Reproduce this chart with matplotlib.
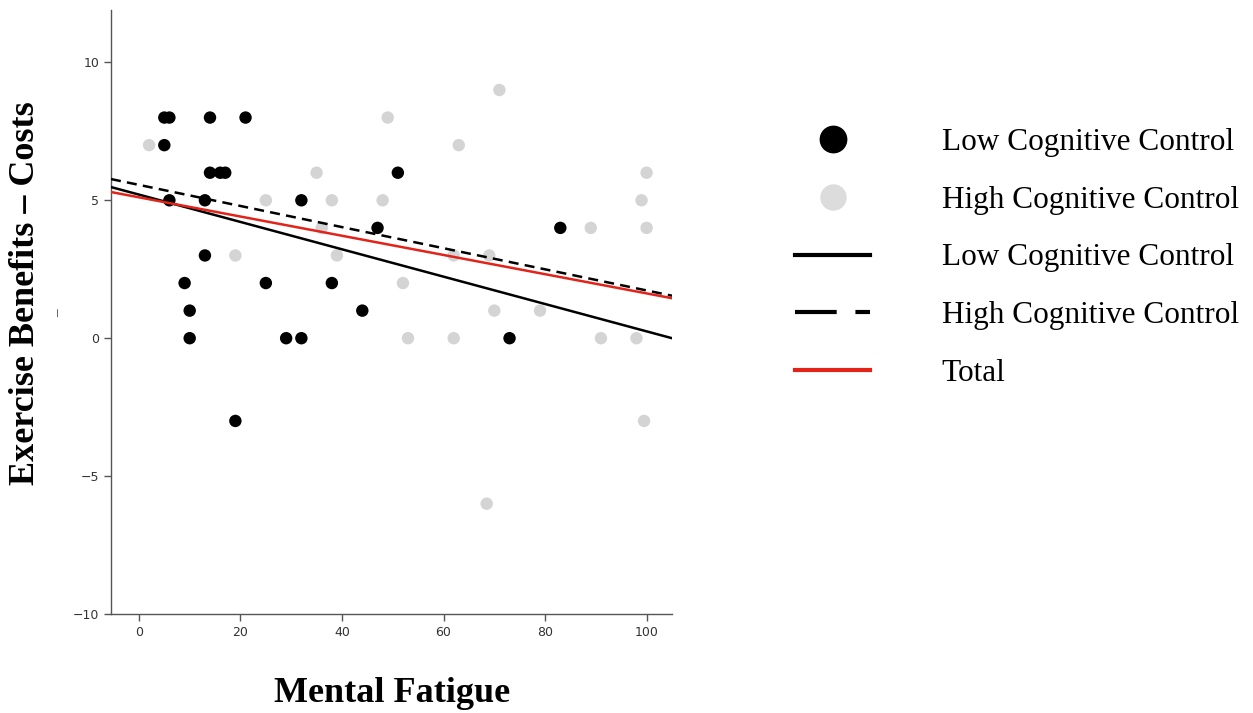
import matplotlib
matplotlib.use('Agg')
import matplotlib.pyplot as plt
from matplotlib.lines import Line2D

# low cognitive control (black points)
low_x = [5, 6, 5, 6, 14, 21, 14, 16, 17, 13, 13, 9, 10, 10, 19, 25, 29, 32, 32, 38, 44, 47, 51, 73, 83]
low_y = [8, 8, 7, 5, 8, 8, 6, 6, 6, 5, 3, 2, 1, 0, -3, 2, 0, 0, 5, 2, 1, 4, 6, 0, 4]

# high cognitive control (grey points)
high_x = [2, 19, 25, 35, 36, 38, 39, 48, 49, 52, 53, 62, 62, 63, 68.5, 69, 70, 71, 79, 89, 91, 98, 99, 99.5, 100, 100]
high_y = [7, 3, 5, 6, 4, 5, 3, 5, 8, 2, 0, 0, 3, 7, -6, 3, 1, 9, 1, 4, 0, 0, 5, -3, 6, 4]

# fit lines, read at the two ends of the x range
fit_x = [-5.5, 105]
fit_low = [5.48, 0.0]
fit_high = [5.77, 1.54]
fit_total = [5.30, 1.45]

legend_labels = ['Low Cognitive Control', 'High Cognitive Control',
                 'Low Cognitive Control', 'High Cognitive Control', 'Total']

grey = '#d4d4d4'
red = '#e2231a'

fig = plt.figure(figsize=(12.53, 7.13), dpi=100)
ax = fig.add_axes([111 / 1253, 1 - 614 / 713, (672 - 111) / 1253, (614 - 10) / 713])

ax.scatter(high_x, high_y, s=80, color=grey, edgecolors='none', zorder=2)
ax.scatter(low_x, low_y, s=80, color='black', edgecolors='none', zorder=3)

ax.plot(fit_x, fit_low, color='black', lw=1.8, zorder=4)
ax.plot(fit_x, fit_high, color='black', lw=1.8, dashes=(4, 2.5), zorder=4)
ax.plot(fit_x, fit_total, color=red, lw=1.8, zorder=4)

ax.set_xlim(-5.5, 105)
ax.set_ylim(-10, 11.9)
ax.set_xticks([0, 20, 40, 60, 80, 100])
ax.set_yticks([-10, -5, 0, 5, 10])
ax.spines['top'].set_visible(False)
ax.spines['right'].set_visible(False)
for s in ['left', 'bottom']:
    ax.spines[s].set_color('#555555')
    ax.spines[s].set_linewidth(1.0)
ax.tick_params(direction='out', length=5, width=1, colors='#555555',
               labelcolor='#333333', labelsize=9)

serif = ['Liberation Serif', 'DejaVu Serif']
fig.text(392 / 1253, 1 - 693 / 713, 'Mental Fatigue', ha='center', va='center',
         family=serif, fontweight='bold', fontsize=26)
fig.text(26 / 1253, 1 - 293 / 713, 'Exercise Benefits \u2013 Costs', ha='center', va='center',
         rotation=90, family=serif, fontweight='bold', fontsize=26)
fig.text(59 / 1253, 1 - 313 / 713, '\u2013', ha='center', va='center', rotation=90,
         family=serif, fontsize=11, color='#333333')

handles = [
    Line2D([], [], ls='none', marker='o', markersize=19, color='black'),
    Line2D([], [], ls='none', marker='o', markersize=18, color='#dcdcdc'),
    Line2D([], [], color='black', lw=3),
    Line2D([], [], color='black', lw=3, dashes=(10, 4.5)),
    Line2D([], [], color=red, lw=3),
]
fig.legend(handles, legend_labels, loc='upper left', bbox_to_anchor=(795 / 1253, 1 - 128 / 713),
           frameon=False, prop={'family': serif, 'size': 22.5}, handlelength=2.4,
           handletextpad=2.3, labelspacing=0.92, borderpad=0, borderaxespad=0)

fig.savefig('out.png', dpi=100)
